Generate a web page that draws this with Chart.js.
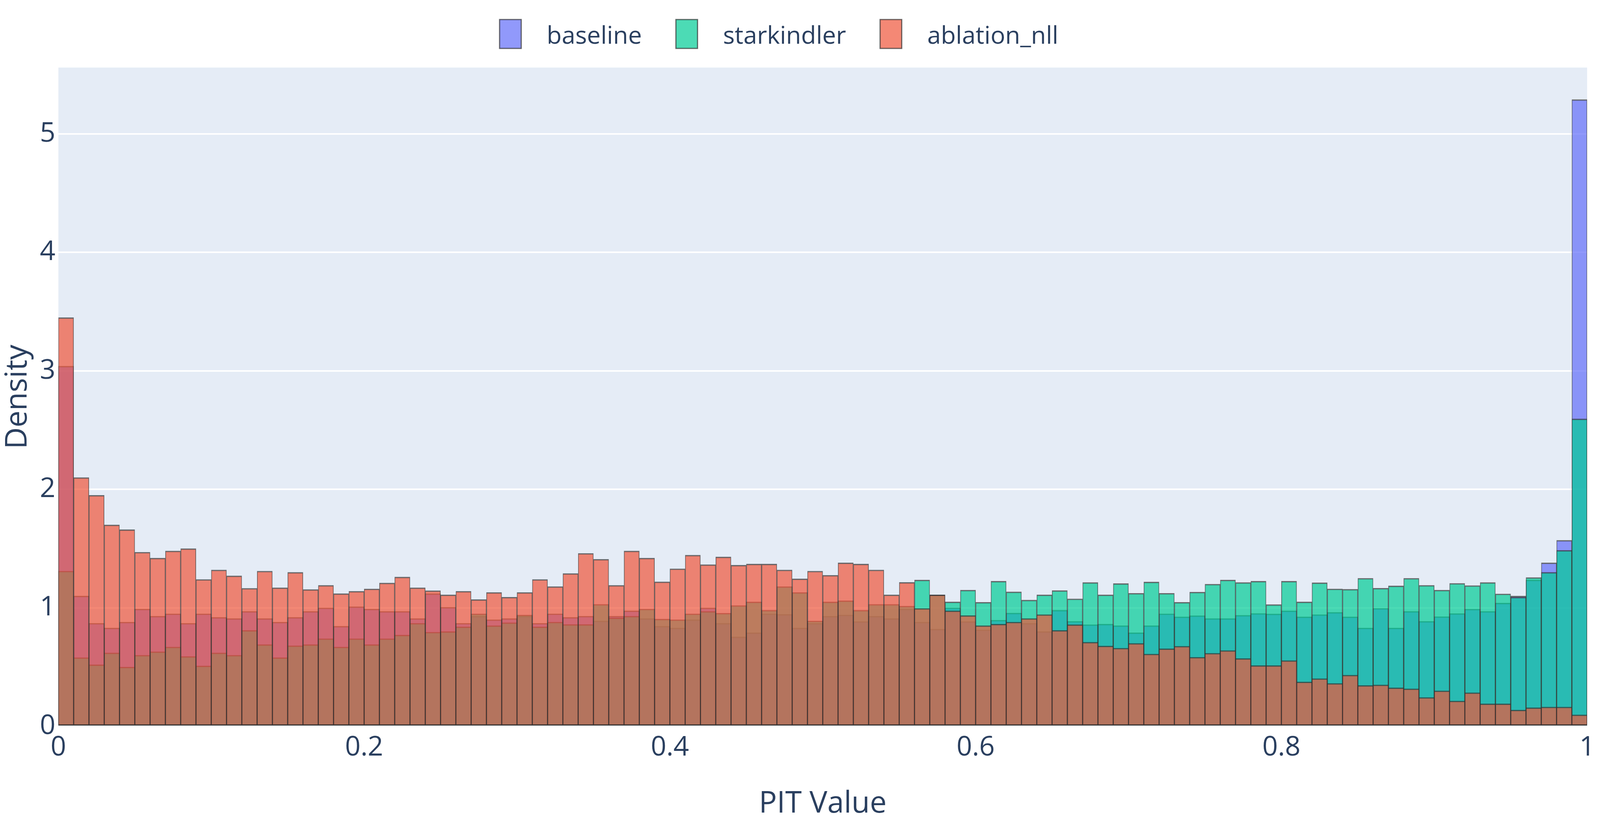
<!DOCTYPE html>
<html>
<head>
<meta charset="utf-8">
<title>PIT histogram</title>
<script src="https://cdn.jsdelivr.net/npm/chart.js@4.4.1/dist/chart.umd.min.js"></script>
<style>
    html, body { margin: 0; padding: 0; background: #ffffff; overflow: hidden; }
    canvas { display: block; }
</style>
</head>
<body>
<canvas id="pit-chart"></canvas>
<script>
// Density per PIT bin (100 bins of width 0.01)
const baseline = [
    3.04, 1.10, 0.87, 0.83, 0.88, 0.99, 0.93, 0.95, 0.87, 0.95,
    0.92, 0.91, 0.97, 0.91, 0.88, 0.92, 0.97, 1.00, 0.845, 1.01,
    0.99, 0.97, 0.97, 0.91, 1.12, 1.005, 0.87, 0.93, 0.90, 0.91,
    0.93, 0.87, 0.95, 0.92, 0.93, 0.89, 0.93, 0.975, 0.91, 0.845,
    0.83, 0.90, 1.00, 0.87, 0.755, 0.79, 0.95, 0.945, 0.83, 0.87,
    0.93, 0.94, 0.885, 0.93, 0.91, 0.99, 0.88, 0.82, 1.00, 0.885,
    0.815, 0.896, 0.956, 0.87, 0.80, 0.98, 0.886, 0.858, 0.862, 0.85,
    0.79, 0.85, 0.95, 0.924, 0.934, 0.91, 0.91, 0.937, 0.953, 0.949,
    0.975, 0.924, 0.943, 0.962, 0.924, 0.83, 0.996, 0.83, 0.97, 0.886,
    0.926, 0.952, 0.989, 0.97, 1.04, 1.10, 1.235, 1.38, 1.57, 5.29
];
const starkindler = [
    1.31, 0.58, 0.52, 0.62, 0.50, 0.60, 0.63, 0.67, 0.59, 0.51,
    0.62, 0.60, 0.81, 0.69, 0.58, 0.68, 0.69, 0.74, 0.67, 0.74,
    0.69, 0.74, 0.77, 0.87, 0.795, 0.80, 0.84, 0.95, 0.85, 0.875,
    0.94, 0.84, 0.88, 0.86, 0.86, 1.03, 0.915, 0.93, 0.99, 0.905,
    0.90, 0.95, 0.97, 0.955, 1.02, 1.05, 0.98, 1.18, 1.13, 0.89,
    1.05, 1.06, 0.98, 1.03, 1.03, 1.015, 1.235, 1.11, 1.05, 1.15,
    1.047, 1.225, 1.135, 1.066, 1.11, 1.146, 1.076, 1.214, 1.11, 1.205,
    1.123, 1.218, 1.123, 1.047, 1.133, 1.20, 1.235, 1.214, 1.225, 1.028,
    1.225, 1.05, 1.212, 1.16, 1.157, 1.25, 1.166, 1.185, 1.25, 1.19,
    1.15, 1.207, 1.188, 1.214, 1.118, 1.09, 1.256, 1.30, 1.485, 2.595
];
const ablation_nll = [
    3.45, 2.10, 1.95, 1.70, 1.66, 1.47, 1.42, 1.48, 1.50, 1.24,
    1.32, 1.27, 1.165, 1.31, 1.17, 1.30, 1.155, 1.19, 1.12, 1.14,
    1.16, 1.21, 1.26, 1.17, 1.145, 1.11, 1.14, 1.07, 1.13, 1.09,
    1.13, 1.24, 1.18, 1.29, 1.46, 1.41, 1.19, 1.48, 1.42, 1.22,
    1.33, 1.445, 1.365, 1.43, 1.36, 1.37, 1.37, 1.32, 1.245, 1.31,
    1.275, 1.38, 1.37, 1.32, 1.11, 1.215, 0.995, 1.11, 0.975, 0.935,
    0.85, 0.862, 0.88, 0.91, 0.943, 0.81, 0.858, 0.71, 0.678, 0.66,
    0.70, 0.61, 0.655, 0.676, 0.583, 0.617, 0.64, 0.572, 0.513, 0.513,
    0.555, 0.375, 0.403, 0.362, 0.432, 0.345, 0.35, 0.325, 0.317, 0.244,
    0.30, 0.214, 0.284, 0.19, 0.19, 0.137, 0.157, 0.163, 0.163, 0.097
];

const seriesNames = ['baseline', 'starkindler', 'ablation_nll'];
const seriesColors = ['rgba(99, 110, 250, 0.7)', 'rgba(0, 204, 150, 0.7)', 'rgba(239, 85, 59, 0.7)'];
const xTickValues = [0, 0.2, 0.4, 0.6, 0.8, 1];
const yTickValues = [0, 1, 2, 3, 4, 5];

const binWidth = 0.01;
const textColor = '#2a3f5f';
const outline = 'rgba(50, 50, 50, 0.7)';

// the window may be narrower than the 5400 x 2100 reference, so scale
// horizontal and vertical layout separately, fonts by their mean
const viewW = window.innerWidth;
const viewH = window.innerHeight;
const sx = viewW / 5400;
const sy = viewH / 2100;
const fk = Math.sqrt(sx * sy);
const canvas = document.getElementById('pit-chart');
canvas.style.width = viewW + 'px';
canvas.style.height = viewH + 'px';

function toPoints(values) {
    return values.map((y, i) => ({ x: (i + 0.5) * binWidth, y: y }));
}

// Plotly-like plot background
const plotBackground = {
    id: 'plotBackground',
    beforeDraw(chart) {
        const { ctx, chartArea } = chart;
        ctx.save();
        ctx.fillStyle = '#e5ecf6';
        ctx.fillRect(chartArea.left, chartArea.top, chartArea.right - chartArea.left, chartArea.bottom - chartArea.top);
        ctx.restore();
    }
};

// Horizontal legend at the top, drawn by hand to get plotly spacing
const topLegend = {
    id: 'topLegend',
    afterDraw(chart) {
        const ctx = chart.ctx;
        const boxW = 73 * sx, boxH = 74 * sy, boxTop = 50 * sy;
        const gap = 86 * sx, spacing = 115 * sx;
        ctx.save();
        ctx.font = (72 * fk) + 'px "Open Sans"';
        ctx.textBaseline = 'alphabetic';
        const widths = seriesNames.map(n => ctx.measureText(n).width);
        const total = widths.reduce((a, w) => a + boxW + gap + w, 0) + spacing * (seriesNames.length - 1);
        let x = 2629 * sx - total / 2;
        seriesNames.forEach((name, i) => {
            ctx.fillStyle = seriesColors[i];
            ctx.fillRect(x, boxTop, boxW, boxH);
            ctx.strokeStyle = outline;
            ctx.lineWidth = 3;
            ctx.strokeRect(x, boxTop, boxW, boxH);
            ctx.fillStyle = textColor;
            ctx.fillText(name, x + boxW + gap, 112 * sy);
            x += boxW + gap + widths[i] + spacing;
        });
        ctx.restore();
    }
};

const datasets = [baseline, starkindler, ablation_nll].map((values, i) => ({
    label: seriesNames[i],
    data: toPoints(values),
    backgroundColor: seriesColors[i],
    borderColor: outline,
    borderWidth: { left: 1.5, right: 1.5, top: 3, bottom: 3 },
    borderSkipped: false,
    grouped: false,
    barPercentage: 1,
    categoryPercentage: 1,
    order: 3 - i
}));

const pitChart = new Chart(canvas.getContext('2d'), {
    type: 'bar',
    data: { datasets: datasets },
    plugins: [plotBackground, topLegend],
    options: {
        responsive: false,
        animation: false,
        layout: { padding: { top: 173 * sy, right: 24 * sx, bottom: 0, left: 0 } },
        plugins: {
            legend: { display: false },
            tooltip: { enabled: false }
        },
        scales: {
            x: {
                type: 'linear',
                min: 0,
                max: 1,
                offset: false,
                grid: { display: false, offset: false, drawTicks: false },
                border: { display: false },
                afterBuildTicks(scale) {
                    scale.ticks = xTickValues.map(v => ({ value: v }));
                },
                afterFit(scale) { scale.height = 240 * sy; },
                ticks: {
                    includeBounds: false,
                    padding: 13 * sy,
                    color: textColor,
                    font: { family: 'Open Sans', size: 80 * fk },
                    maxRotation: 0,
                    callback: v => String(Number(v.toFixed(1)))
                },
                title: {
                    display: true,
                    text: 'PIT Value',
                    color: textColor,
                    font: { family: 'Open Sans', size: 88 * fk },
                    padding: { top: 0, bottom: -5 * sy }
                }
            },
            y: {
                min: 0,
                max: 5.56,
                grid: { color: '#ffffff', lineWidth: 4 * sy, drawTicks: false },
                border: { display: false },
                afterBuildTicks(scale) {
                    scale.ticks = yTickValues.map(v => ({ value: v }));
                },
                afterFit(scale) { scale.width = 197 * sx; },
                ticks: {
                    includeBounds: false,
                    padding: 10 * sx,
                    color: textColor,
                    font: { family: 'Open Sans', size: 80 * fk }
                },
                title: {
                    display: true,
                    text: 'Density',
                    color: textColor,
                    font: { family: 'Open Sans', size: 88 * fk },
                    padding: { top: 0, bottom: 0 }
                }
            }
        }
    }
});
</script>
</body>
</html>
